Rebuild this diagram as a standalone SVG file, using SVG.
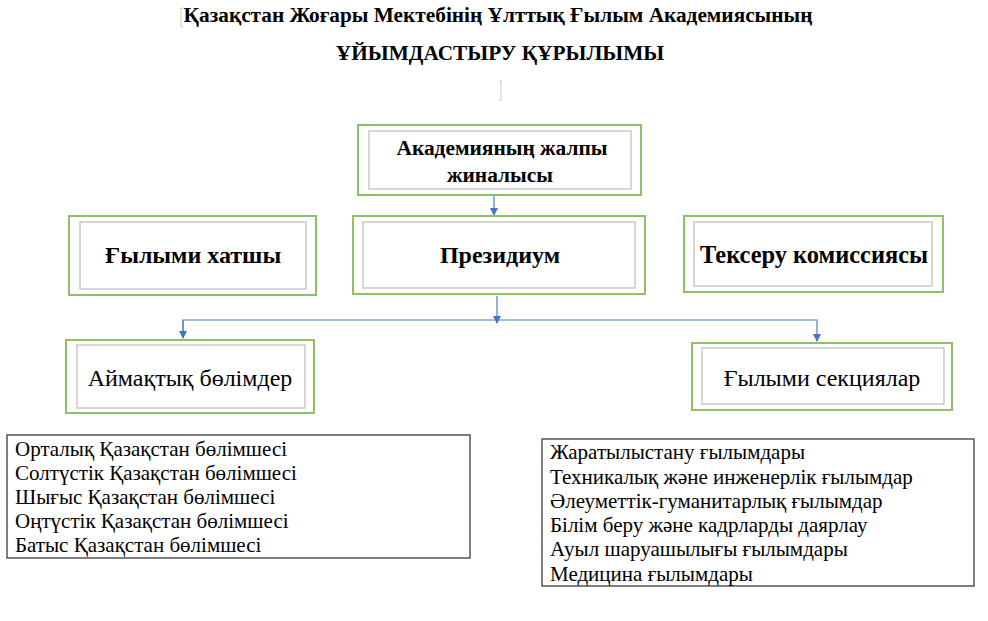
<svg xmlns="http://www.w3.org/2000/svg" width="988" height="621" viewBox="0 0 988 621">
<style>
text{font-family:"Liberation Serif","DejaVu Serif",serif;fill:#000}
.t{font-weight:bold;font-size:21.3px;text-anchor:middle}
.b{font-weight:bold;text-anchor:middle}
.n{font-size:24px;text-anchor:middle}
.l{font-size:21px}
.outer{fill:#fff;stroke:#8cc168;stroke-width:2}
.inner{fill:none;stroke:#c0c0c0;stroke-width:1.3}
.list{fill:#fff;stroke:#3a3a3a;stroke-width:1.3}
.c{fill:none;stroke:#4f7fc9;stroke-width:1.2}
.mark{fill:none;stroke:#c8c8c8;stroke-width:1}
</style>
<defs>
<marker id="ah" markerWidth="8" markerHeight="8" refX="7" refY="4" orient="auto" markerUnits="userSpaceOnUse">
<path d="M0,0 L8,4 L0,8 Z" fill="#4472c4"/>
</marker>
</defs>
<rect width="988" height="621" fill="#fff"/>
<g id="title">
<text class="t" x="498" y="22">Қазақстан Жоғары Мектебінің Ұлттық Ғылым Академиясының</text>
<text class="t" x="500" y="60">ҰЙЫМДАСТЫРУ ҚҰРЫЛЫМЫ</text>
<path class="mark" d="M183,8 L181,8 L181,27 L183,27"/>
<path class="mark" d="M499,81 L501,81 L501,100 L499,100"/>
</g>
<g id="connectors">
<path class="c" d="M494,196 L494,215" marker-end="url(#ah)"/>
<path class="c" d="M497,296 L497,323" marker-end="url(#ah)"/>
<path class="c" d="M183,338 L183,320 L817,320 L817,341" marker-end="url(#ah)"/>
<path class="c" d="M183,320 L183,338" marker-end="url(#ah)"/>
</g>
<g id="general-assembly">
<rect class="outer" x="358" y="125" width="283" height="70"/>
<rect class="inner" x="369" y="131" width="262" height="58"/>
<text class="b" x="502" y="155" font-size="21.4">Академияның жалпы</text>
<text class="b" x="500" y="182" font-size="21.4">жиналысы</text>
</g>
<g id="scientific-secretary">
<rect class="outer" x="69" y="216" width="247" height="79"/>
<rect class="inner" x="80" y="222" width="226" height="67"/>
<text class="b" x="193" y="263" font-size="24">Ғылыми хатшы</text>
</g>
<g id="presidium">
<rect class="outer" x="353" y="216" width="292" height="78"/>
<rect class="inner" x="363" y="222" width="272" height="66"/>
<text class="b" x="500" y="263" font-size="24">Президиум</text>
</g>
<g id="audit-commission">
<rect class="outer" x="684" y="216" width="259" height="76"/>
<rect class="inner" x="694" y="222" width="238" height="64"/>
<text class="b" x="814" y="263" font-size="24.4">Тексеру комиссиясы</text>
</g>
<g id="regional-departments">
<rect class="outer" x="66" y="340" width="248" height="73"/>
<rect class="inner" x="77" y="345" width="228" height="63"/>
<text class="n" x="190" y="386">Аймақтық бөлімдер</text>
</g>
<g id="scientific-sections">
<rect class="outer" x="692" y="343" width="260" height="67"/>
<rect class="inner" x="702" y="348" width="242" height="56"/>
<text class="n" x="822" y="386">Ғылыми секциялар</text>
</g>
<g id="branches-list">
<rect class="list" x="7" y="435" width="463" height="123"/>
<text class="l" x="15" y="456">Орталық Қазақстан бөлімшесі</text>
<text class="l" x="15" y="480">Солтүстік Қазақстан бөлімшесі</text>
<text class="l" x="15" y="504">Шығыс Қазақстан бөлімшесі</text>
<text class="l" x="15" y="528">Оңтүстік Қазақстан бөлімшесі</text>
<text class="l" x="15" y="552">Батыс Қазақстан бөлімшесі</text>
</g>
<g id="sections-list">
<rect class="list" x="542" y="439" width="432" height="147"/>
<text class="l" x="550" y="459">Жаратылыстану ғылымдары</text>
<text class="l" x="550" y="484">Техникалық және инженерлік ғылымдар</text>
<text class="l" x="550" y="508">Әлеуметтік-гуманитарлық ғылымдар</text>
<text class="l" x="550" y="532">Білім беру және кадрларды даярлау</text>
<text class="l" x="550" y="556">Ауыл шаруашылығы ғылымдары</text>
<text class="l" x="550" y="581">Медицина ғылымдары</text>
</g>
</svg>
